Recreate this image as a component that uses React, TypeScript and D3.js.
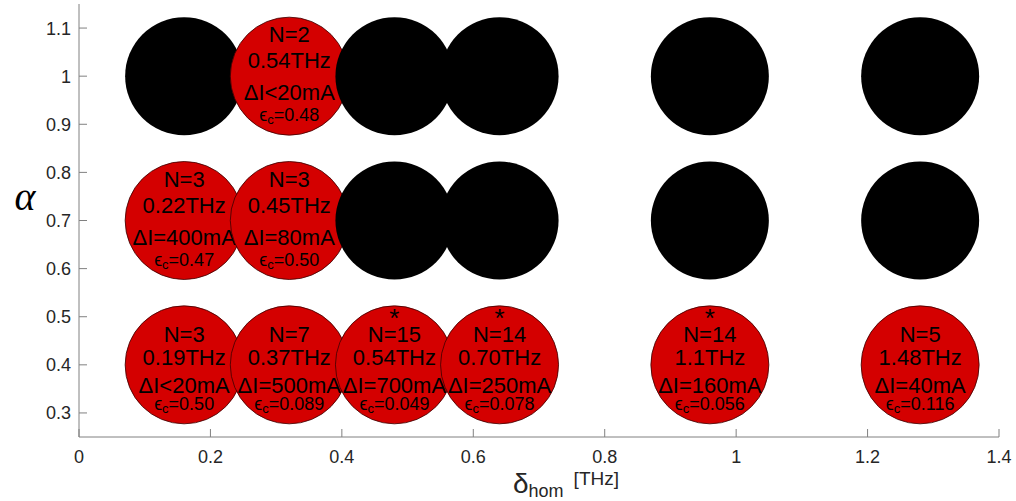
import React from "react";
import * as d3 from "d3";

// ---- data ----
const xPositions = [0.16, 0.32, 0.48, 0.64, 0.96, 1.28];
const alphaRows = [1.0, 0.7, 0.4];
// marker kind per row (left to right): "r" = red (labelled), "b" = black
const rowKinds = [
  ["b", "r", "b", "b", "b", "b"],
  ["r", "r", "b", "b", "b", "b"],
  ["r", "r", "r", "r", "r", "r"],
];
// labels for red markers, in drawing order (row by row, left to right)
const labelN = ["N=2", "N=3", "N=3", "N=3", "N=7", "N=15", "N=14", "N=14", "N=5"];
const labelFreq = ["0.54THz", "0.22THz", "0.45THz", "0.19THz", "0.37THz", "0.54THz", "0.70THz", "1.1THz", "1.48THz"];
const labelCurrent = ["ΔI<20mA", "ΔI=400mA", "ΔI=80mA", "ΔI<20mA", "ΔI=500mA", "ΔI=700mA", "ΔI=250mA", "ΔI=160mA", "ΔI=40mA"];
const labelEps = ["0.48", "0.47", "0.50", "0.50", "0.089", "0.049", "0.078", "0.056", "0.116"];
const labelStar = [false, false, false, false, false, true, true, true, false];

const xTicks = [0, 0.2, 0.4, 0.6, 0.8, 1, 1.2, 1.4];
const yTicks = [0.3, 0.4, 0.5, 0.6, 0.7, 0.8, 0.9, 1, 1.1];

// ---- layout ----
const W = 1016;
const H = 501;
const x = d3.scaleLinear().domain([0, 1.4]).range([79, 999]);
const y = d3.scaleLinear().domain([0.25, 1.15]).range([437, 4]);
const R = 59;
const axisColor = "#808080";
const textColor = "#262626";
const fontSans = "'Liberation Sans', Arial, sans-serif";

export default function App() {
  const markers: JSX.Element[] = [];
  let k = 0;
  rowKinds.forEach((row, ri) => {
    const a = alphaRows[ri];
    const cy = y(a);
    const bottom = ri === 2;
    const off = bottom ? [-23, 0, 28, 45] : [-34, -8, 24, 45];
    row.forEach((kind, ci) => {
      const cx = x(xPositions[ci]);
      if (kind === "b") {
        markers.push(<circle key={`b${ri}-${ci}`} cx={cx} cy={cy} r={R} fill="#000" />);
      } else {
        const i = k++;
        markers.push(
          <g key={`r${ri}-${ci}`}>
            <circle cx={cx} cy={cy} r={R} fill="#d40000" stroke="#3a0000" strokeWidth={0.8} />
            <g fontFamily={fontSans} fill="#000" textAnchor="middle">
              {labelStar[i] && (
                <text x={cx} y={cy - 38} fontSize={26}>*</text>
              )}
              <text x={cx} y={cy + off[0]} fontSize={22}>{labelN[i]}</text>
              <text x={cx} y={cy + off[1]} fontSize={22}>{labelFreq[i]}</text>
              <text x={cx} y={cy + off[2]} fontSize={22}>{labelCurrent[i]}</text>
              <text x={cx} y={cy + off[3]} fontSize={18}>
                ϵ<tspan fontSize={13} dy={3}>c</tspan>
                <tspan dy={-3}>={labelEps[i]}</tspan>
              </text>
            </g>
          </g>
        );
      }
    });
  });

  return (
    <svg width={W} height={H} style={{ position: "absolute", left: 0, top: 0, background: "#fff" }}>
      {/* axes */}
      <line x1={x(0)} x2={x(1.4)} y1={y(0.25)} y2={y(0.25)} stroke={axisColor} strokeWidth={1} />
      <line x1={x(0)} x2={x(0)} y1={y(0.25)} y2={y(1.15)} stroke={axisColor} strokeWidth={1} />
      {xTicks.map((t) => (
        <g key={`xt${t}`}>
          <line x1={x(t)} x2={x(t)} y1={y(0.25)} y2={y(0.25) - 8} stroke={axisColor} />
          <text x={x(t)} y={463} textAnchor="middle" fontFamily={fontSans} fontSize={18} fill={textColor}>
            {d3.format("~g")(t)}
          </text>
        </g>
      ))}
      {yTicks.map((t) => (
        <g key={`yt${t}`}>
          <line x1={x(0)} x2={x(0) + 8} y1={y(t)} y2={y(t)} stroke={axisColor} />
          <text x={71} y={y(t) + 6.5} textAnchor="end" fontFamily={fontSans} fontSize={18} fill={textColor}>
            {d3.format("~g")(t)}
          </text>
        </g>
      ))}
      {markers}
      {/* axis labels */}
      <text x={25} y={210} textAnchor="middle" fontFamily="'Liberation Serif', 'DejaVu Serif', serif" fontStyle="italic" fontSize={40} fill="#000">
        α
      </text>
      <text x={513} y={493} fontFamily={fontSans} fill={textColor}>
        <tspan fontSize={28}>δ</tspan>
        <tspan fontSize={18} dy={4}>hom</tspan>
        <tspan fontSize={19} dx={10} dy={-12}>[THz]</tspan>
      </text>
    </svg>
  );
}
